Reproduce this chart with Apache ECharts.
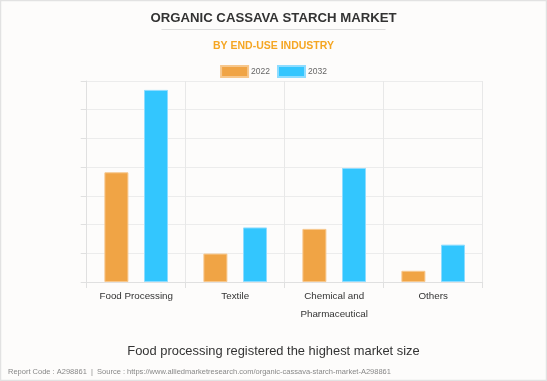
<!DOCTYPE html>
<html><head><meta charset="utf-8">
<script src="https://cdn.jsdelivr.net/npm/echarts@6/dist/echarts.min.js"></script>
<style>html,body{margin:0;padding:0;background:#fdfcfb}#c{width:547px;height:381px}</style>
</head><body><div id="c"></div>
<script>
const categories = ['Food Processing', 'Textile', 'Chemical and\nPharmaceutical', 'Others'];
const values2022 = [3.82, 0.99, 1.85, 0.39];
const values2032 = [6.69, 1.90, 3.97, 1.30];
const seriesNames = ['2022', '2032'];

const FONT = '"Liberation Sans", Arial, sans-serif';
const chart = echarts.init(document.getElementById('c'), null, {renderer: 'canvas'});
chart.setOption({
  backgroundColor: '#fdfcfb',
  animation: false,
  title: [
    {text: 'ORGANIC CASSAVA STARCH MARKET', left: 'center', top: 6.5,
     textStyle: {fontFamily: FONT, fontWeight: 'bold', fontSize: 13.2, color: '#333'}},
    {text: 'BY END-USE INDUSTRY', left: 'center', top: 35.5,
     textStyle: {fontFamily: FONT, fontWeight: 'bold', fontSize: 10.5, color: '#f5a623'}},
    {text: 'Food processing registered the highest market size', left: 'center', top: 339.5,
     textStyle: {fontFamily: FONT, fontWeight: 'normal', fontSize: 12.9, color: '#333'}},
    {text: 'Report Code : A298861  |  Source : https://www.alliedmarketresearch.com/organic-cassava-starch-market-A298861', left: 3, top: 362.5,
     textStyle: {fontFamily: FONT, fontWeight: 'normal', fontSize: 7.5, color: '#888'}}
  ],
  graphic: [
    {type: 'rect', shape: {x: 0.5, y: 0.5, width: 546, height: 380}, style: {fill: 'none', stroke: '#e2e2e2', lineWidth: 1.5}, silent: true},
    {type: 'line', shape: {x1: 161.5, y1: 29.5, x2: 385.5, y2: 29.5}, style: {stroke: '#dddddd', lineWidth: 1}, silent: true}
  ],
  legend: {
    data: seriesNames, top: 60, left: 'center', itemWidth: 27, itemHeight: 11, itemGap: 7,
    icon: 'rect',
    textStyle: {fontFamily: FONT, fontSize: 8.5, color: '#666', padding: [0, 0, 0, -2]}
  },
  grid: {left: 86.7, right: 64.3, top: 81, bottom: 99, containLabel: false},
  xAxis: {
    type: 'category', data: categories,
    axisLine: {show: true, lineStyle: {color: '#e0e0e0'}},
    axisTick: {show: true, length: 6, lineStyle: {color: '#e0e0e0'}},
    splitLine: {show: true, lineStyle: {color: '#e8e8e8'}},
    axisLabel: {fontFamily: FONT, fontSize: 9.8, color: '#333', margin: 5, lineHeight: 18, interval: 0}
  },
  yAxis: {
    type: 'value', min: 0, max: 7, interval: 1,
    axisLine: {show: true, lineStyle: {color: '#e0e0e0'}},
    axisTick: {show: true, length: 6, lineStyle: {color: '#e0e0e0'}},
    splitLine: {show: true, lineStyle: {color: '#ececec', width: 1}},
    axisLabel: {show: false}
  },
  series: [
    {name: seriesNames[0], type: 'bar', data: values2022, barWidth: 24, barGap: '65%',
     itemStyle: {color: '#f0a445', borderColor: '#f7c78c', borderWidth: 1}},
    {name: seriesNames[1], type: 'bar', data: values2032, barWidth: 24, barGap: '65%',
     itemStyle: {color: '#33c6fe', borderColor: '#8edcff', borderWidth: 1}}
  ]
});
</script></body></html>
